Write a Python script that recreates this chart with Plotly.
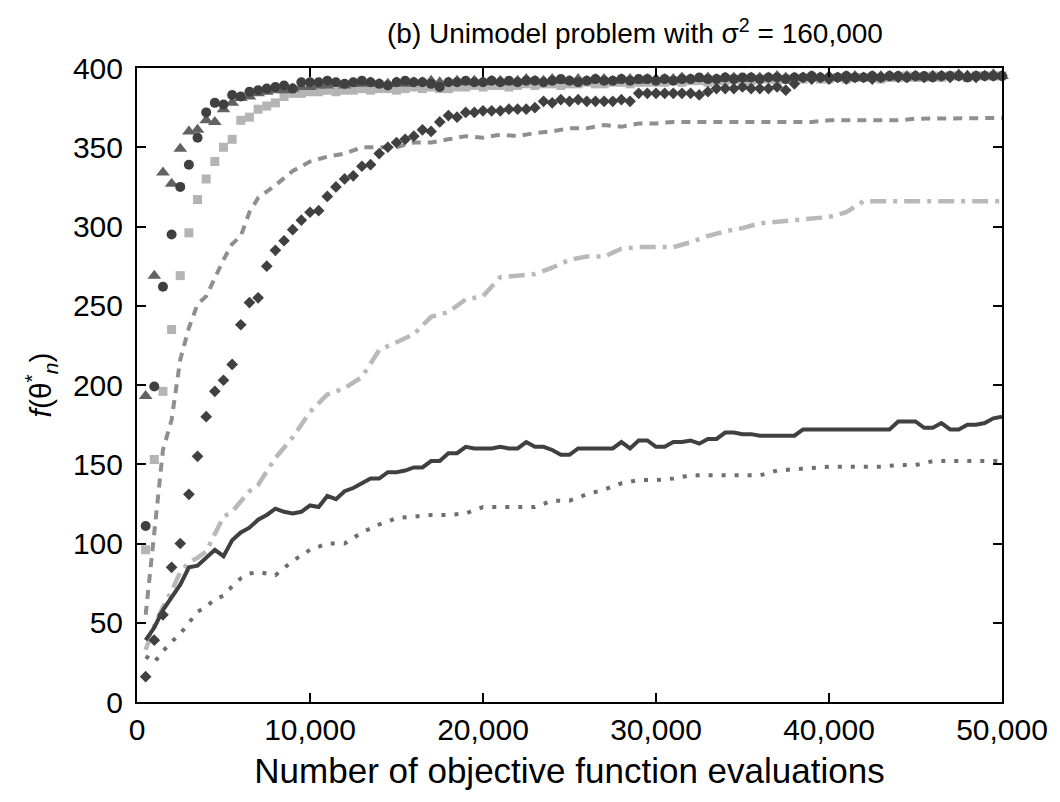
import plotly.graph_objects as go

# Evaluation counts: markers and the solid line are sampled every 500 evaluations,
# the dashed / dotted / dash-dot curves on a coarser grid.
EVALS_FINE = list(range(500, 50001, 500))
EVALS_COARSE = list(range(500, 7001, 500)) + list(range(8000, 50001, 1000))

circles = [
    111, 199, 262, 295, 325, 339, 356, 372, 378, 377, 383, 382, 385, 386, 387, 388, 389, 387, 391, 391,
    391, 392, 391, 390, 391, 392, 391, 390, 389, 391, 392, 391, 391, 390, 388, 391, 391, 392, 391, 391,
    392, 391, 392, 391, 392, 392, 391, 392, 393, 392, 391, 392, 393, 392, 392, 393, 392, 393, 393, 392,
    393, 392, 393, 393, 394, 393, 393, 394, 393, 394, 394, 393, 394, 394, 393, 394, 394, 395, 394, 394,
    394, 395, 394, 394, 395, 394, 395, 395, 394, 395, 395, 394, 395, 395, 395, 394, 395, 395, 395, 395,
]

triangles = [
    193, 269, 334, 327, 349, 360, 361, 367, 366, 374, 378, 381, 382, 384, 385, 386, 386, 387, 388, 388,
    389, 389, 390, 389, 390, 390, 391, 390, 390, 391, 390, 391, 391, 392, 391, 391, 392, 391, 392, 391,
    392, 392, 391, 392, 393, 392, 392, 393, 392, 392, 393, 392, 393, 393, 392, 393, 393, 392, 393, 393,
    393, 393, 394, 393, 393, 394, 393, 394, 394, 393, 394, 394, 394, 395, 394, 394, 394, 395, 394, 395,
    394, 395, 395, 394, 395, 395, 394, 395, 395, 395, 394, 395, 395, 395, 396, 395, 395, 395, 396, 395,
]

squares = [
    96, 153, 196, 235, 269, 296, 317, 330, 341, 350, 355, 367, 369, 374, 376, 378, 382, 384, 384, 385,
    385, 386, 385, 386, 386, 387, 386, 387, 387, 386, 387, 388, 387, 388, 387, 387, 388, 388, 389, 388,
    389, 389, 388, 389, 390, 389, 390, 390, 389, 390, 390, 391, 390, 390, 391, 391, 390, 391, 391, 391,
    391, 392, 391, 392, 392, 391, 392, 392, 393, 392, 392, 393, 393, 392, 393, 393, 393, 394, 393, 393,
    394, 393, 394, 394, 394, 393, 394, 394, 395, 394, 394, 395, 394, 395, 395, 394, 395, 395, 395, 395,
]

diamonds = [
    16, 39, 55, 85, 100, 131, 155, 180, 196, 203, 213, 238, 252, 255, 275, 285, 291, 298, 304, 309,
    310, 319, 325, 330, 332, 338, 339, 346, 350, 353, 355, 357, 361, 360, 366, 370, 369, 372, 372, 373,
    373, 373, 374, 374, 374, 375, 379, 378, 380, 379, 380, 379, 379, 379, 379, 380, 379, 384, 384, 384,
    384, 384, 384, 384, 383, 385, 387, 387, 387, 388, 387, 387, 387, 388, 386, 390, 394, 393, 394, 393,
    394, 393, 394, 394, 393, 394, 395, 394, 394, 395, 394, 395, 395, 394, 395, 395, 394, 395, 395, 395,
]

solid = [
    39, 47, 58, 66, 74, 85, 86, 91, 96, 92, 102, 107, 110, 115, 118, 122, 120, 119, 120, 124,
    123, 130, 128, 133, 135, 138, 141, 141, 145, 145, 146, 148, 148, 152, 152, 157, 157, 161, 160, 160,
    160, 161, 160, 160, 164, 161, 161, 159, 156, 156, 160, 160, 160, 160, 160, 164, 160, 165, 165, 161,
    161, 164, 164, 165, 163, 166, 166, 170, 170, 169, 169, 168, 168, 168, 168, 168, 172, 172, 172, 172,
    172, 172, 172, 172, 172, 172, 172, 177, 177, 177, 173, 173, 176, 172, 172, 175, 175, 176, 179, 180,
]

dashed = [
    55, 108, 159, 178, 216, 236, 251, 256, 268, 279, 289, 294, 309, 318,
    326, 335, 341, 344, 346, 350, 350, 350, 353, 353, 355, 357, 356, 358, 357, 359,
    360, 362, 362, 364, 363, 365, 365, 366, 366, 366, 366, 366, 366, 366, 366, 366,
    367, 367, 367, 367, 367, 368, 368, 368, 368, 368, 368.5,
]

dotted = [
    29, 25, 32, 38, 43, 50, 57, 60, 65, 67, 73, 78, 81, 82,
    80, 89, 96, 100, 100, 107, 112, 116, 117, 118, 118, 119, 123, 123, 123, 123,
    127, 127, 131, 134, 138, 140, 140, 141, 143, 143, 143, 143, 143, 146, 147, 148,
    148.5, 148.5, 148.5, 148.5, 149.5, 149.5, 152, 152, 152, 152, 152,
]

dashdot = [
    33, 48, 60, 70, 82, 88, 91, 95, 106, 117, 120, 127, 133, 137,
    154, 167, 183, 194, 198, 205, 222, 227, 232, 243, 246, 254, 256, 268, 269, 270,
    274, 279, 281, 281, 286, 287, 287, 287, 290, 294, 297, 299, 302, 303, 304, 305,
    306, 309, 316, 316, 316, 315.5, 315.5, 316, 316, 316, 316,
]

X_TICKS = [0, 10000, 20000, 30000, 40000, 50000]
X_TICK_TEXT = ["0", "10,000", "20,000", "30,000", "40,000", "50,000"]
Y_TICKS = [0, 50, 100, 150, 200, 250, 300, 350, 400]

FONT = "Liberation Sans, Arial, Helvetica, sans-serif"

fig = go.Figure()

# curves
fig.add_trace(go.Scatter(x=EVALS_COARSE, y=dashdot, mode="lines",
                         line=dict(color="#b9b9b9", width=4.5, dash="16px,7px,4px,7px")))
fig.add_trace(go.Scatter(x=EVALS_COARSE, y=dashed, mode="lines",
                         line=dict(color="#8f8f8f", width=4, dash="9px,7px")))
fig.add_trace(go.Scatter(x=EVALS_COARSE, y=dotted, mode="lines",
                         line=dict(color="#6e6e6e", width=4, dash="4px,9px")))
fig.add_trace(go.Scatter(x=EVALS_FINE, y=solid, mode="lines",
                         line=dict(color="#404040", width=4)))

# marker series
fig.add_trace(go.Scatter(x=EVALS_FINE, y=squares, mode="markers", cliponaxis=False,
                         marker=dict(symbol="square", size=9, color="#b4b4b4")))
fig.add_trace(go.Scatter(x=EVALS_FINE, y=triangles, mode="markers", cliponaxis=False,
                         marker=dict(symbol="triangle-up", size=12, color="#626262")))
fig.add_trace(go.Scatter(x=EVALS_FINE, y=circles, mode="markers", cliponaxis=False,
                         marker=dict(symbol="circle", size=10, color="#404040")))
fig.add_trace(go.Scatter(x=EVALS_FINE, y=diamonds, mode="markers", cliponaxis=False,
                         marker=dict(symbol="diamond", size=9, color="#404040")))

axis_style = dict(
    showgrid=False, zeroline=False, showline=True, linecolor="black", linewidth=2,
    mirror="ticks", ticks="inside", ticklen=9, tickwidth=2, tickcolor="black",
    tickfont=dict(family=FONT, size=30, color="black"),
)

fig.update_xaxes(range=[0, 50000], tickvals=X_TICKS, ticktext=X_TICK_TEXT,
                 title=dict(text="Number of objective function evaluations",
                            font=dict(family=FONT, size=35, color="black"), standoff=13),
                 **axis_style)
fig.update_yaxes(range=[0, 400], tickvals=Y_TICKS, ticklabelstandoff=6,
                 title=dict(text="<i>f</i>(θ<sup>*</sup><sub><i>n</i></sub>)",
                            font=dict(family=FONT, size=30, color="black"), standoff=12),
                 **axis_style)

fig.update_layout(
    width=1060, height=802,
    margin=dict(l=137, r=55, t=68, b=100),
    paper_bgcolor="white", plot_bgcolor="white",
    showlegend=False,
    font=dict(family=FONT, color="black"),
    title=dict(text="(b) Unimodel problem with σ<sup>2</sup> = 160,000",
               font=dict(family=FONT, size=28, color="black"),
               x=0.599, xanchor="center", xref="container",
               y=0.958, yanchor="middle", yref="container"),
)

fig.write_html("out.html")
